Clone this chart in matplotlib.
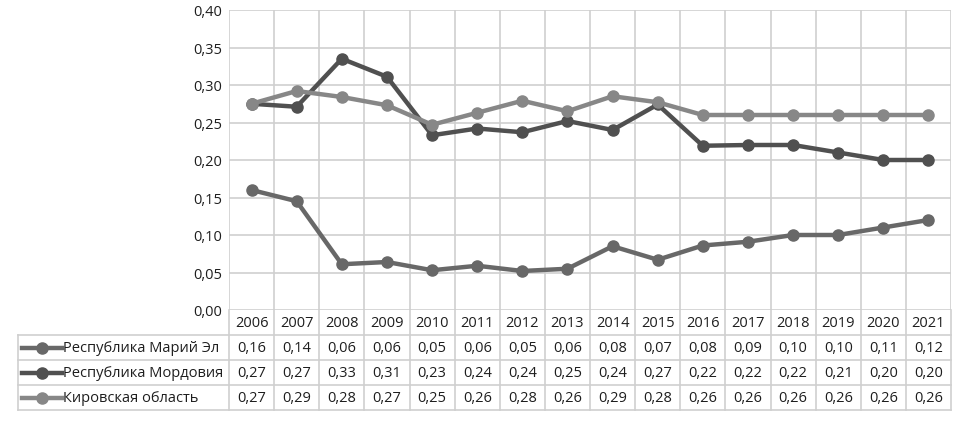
import numpy as np
import matplotlib.pyplot as plt

plt.rcParams['font.family'] = ['Open Sans', 'DejaVu Sans']

years = [str(y) for y in range(2006, 2022)]
series_names = ['Республика Марий Эл', 'Республика Мордовия', 'Кировская область']

# plotted values
mari_el = [0.160, 0.145, 0.061, 0.064, 0.053, 0.059, 0.052, 0.055,
           0.085, 0.067, 0.086, 0.091, 0.100, 0.100, 0.110, 0.120]
mordovia = [0.275, 0.271, 0.335, 0.311, 0.233, 0.242, 0.237, 0.252,
            0.240, 0.274, 0.219, 0.220, 0.220, 0.210, 0.200, 0.200]
kirov = [0.275, 0.292, 0.284, 0.273, 0.247, 0.263, 0.279, 0.265,
         0.285, 0.277, 0.260, 0.260, 0.260, 0.260, 0.260, 0.260]

# values as printed in the data table
mari_el_tbl = [0.16, 0.14, 0.06, 0.06, 0.05, 0.06, 0.05, 0.06,
               0.08, 0.07, 0.08, 0.09, 0.10, 0.10, 0.11, 0.12]
mordovia_tbl = [0.27, 0.27, 0.33, 0.31, 0.23, 0.24, 0.24, 0.25,
                0.24, 0.27, 0.22, 0.22, 0.22, 0.21, 0.20, 0.20]
kirov_tbl = [0.27, 0.29, 0.28, 0.27, 0.25, 0.26, 0.28, 0.26,
             0.29, 0.28, 0.26, 0.26, 0.26, 0.26, 0.26, 0.26]

colors = ['#686868', '#505050', '#878787']
grid_c = '#cfcfcf'
txt_c = '#1e1e1e'
fs = 10.5

W, H = 963, 427
fig = plt.figure(figsize=(W / 100, H / 100), dpi=100)

# plot area
ax = fig.add_axes([229 / W, 1 - 311 / H, 722 / W, 300 / H])
x = np.arange(len(years))
ax.set_xlim(-0.5, len(years) - 0.5)
ax.set_ylim(0, 0.4)
yt = np.arange(0, 0.401, 0.05)
ax.set_yticks(yt)
ax.set_yticklabels([f'{v:.2f}'.replace('.', ',') for v in yt], fontsize=fs, color=txt_c)
ax.tick_params(axis='y', length=0, pad=5)
ax.set_xticks([])
for s in ax.spines.values():
    s.set_visible(False)
for v in yt:
    ax.axhline(v, color=grid_c, lw=1.2, zorder=0)
for i in range(len(years) + 1):
    ax.axvline(i - 0.5, color=grid_c, lw=1.2, zorder=0)

for vals, c in zip([mari_el, mordovia, kirov], colors):
    ax.plot(x, vals, color=c, lw=3.2, marker='o', ms=8, clip_on=False, zorder=3)

# data table
tax = fig.add_axes([229 / W, 1 - 411 / H, 722 / W, 100 / H])
tax.set_xlim(-0.5, len(years) - 0.5)
tax.set_ylim(4, 0)
tax.axis('off')
slot = 722 / len(years)
left = -0.5 - (229 - 18) / slot

for i in range(len(years) + 1):
    tax.plot([i - 0.5, i - 0.5], [0, 4], color=grid_c, lw=1.2, clip_on=False)
tax.plot([left, left], [1, 4], color=grid_c, lw=1.2, clip_on=False)
for r in [1, 2, 3, 4]:
    tax.plot([left, len(years) - 0.5], [r, r], color=grid_c, lw=1.2, clip_on=False)

for i, yr in enumerate(years):
    tax.text(i, 0.5, yr, ha='center', va='center', fontsize=fs, color=txt_c)

key_x0 = -0.5 - (229 - 22) / slot
key_x1 = -0.5 - (229 - 62) / slot
key_xm = -0.5 - (229 - 42) / slot
text_x = -0.5 - (229 - 63) / slot
for r, (name, tbl, c) in enumerate(zip(series_names,
                                       [mari_el_tbl, mordovia_tbl, kirov_tbl], colors)):
    yy = r + 1.5
    tax.plot([key_x0, key_x1], [yy, yy], color=c, lw=3.2, clip_on=False)
    tax.plot([key_xm], [yy], 'o', color=c, ms=8, clip_on=False)
    tax.text(text_x, yy, name, ha='left', va='center', fontsize=fs, color=txt_c)
    for i, v in enumerate(tbl):
        tax.text(i, yy, f'{v:.2f}'.replace('.', ','), ha='center', va='center',
                 fontsize=fs, color=txt_c)

fig.savefig('out.png', dpi=100, facecolor='white')
